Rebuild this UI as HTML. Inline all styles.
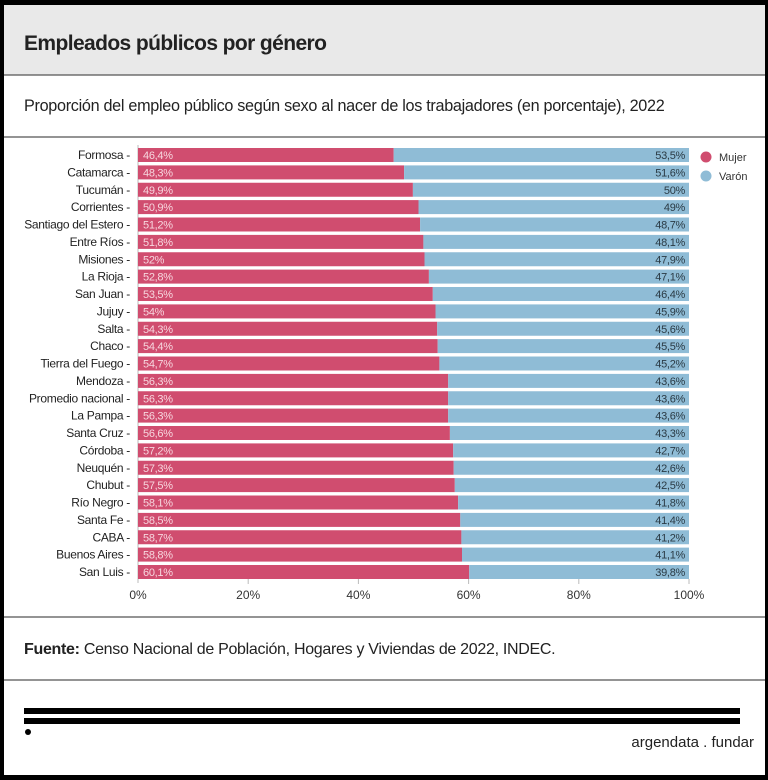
<!DOCTYPE html>
<html><head><meta charset="utf-8"><style>
html,body{margin:0;padding:0;background:#fff;}
svg{display:block;font-family:"Liberation Sans",sans-serif;}
.c{font-size:12px;fill:#222;text-anchor:end;letter-spacing:-0.3px}
.p{font-size:11px;fill:#f7d7df;letter-spacing:-0.3px}
.b{font-size:11px;fill:#2a3a44;text-anchor:end;letter-spacing:-0.3px}
</style></head><body>
<svg width="768" height="780" viewBox="0 0 768 780">
<rect x="0" y="0" width="768" height="780" fill="#000"/>
<rect x="4" y="5" width="761" height="770" fill="#fff"/>
<rect x="4" y="5" width="761" height="70" fill="#e9e9e9"/>
<line x1="4" y1="75" x2="765" y2="75" stroke="#555" stroke-width="1.2"/>
<text x="24" y="50" font-size="21" font-weight="600" fill="#222" letter-spacing="-0.6">Empleados públicos por género</text>
<text x="24" y="111" font-size="16.2" fill="#222" letter-spacing="-0.3">Proporción del empleo público según sexo al nacer de los trabajadores (en porcentaje), 2022</text>
<line x1="4" y1="137" x2="765" y2="137" stroke="#555" stroke-width="1.2"/>
<line x1="138" y1="145" x2="138" y2="583" stroke="#bbb" stroke-width="1"/>
<g id="rows">
<g transform="translate(0,148)"><rect x="138" y="0" width="255.7" height="14" fill="#d04d6f"/><rect x="393.7" y="0" width="295.3" height="14" fill="#8fbcd6"/><text class="c" x="130" y="11">Formosa -</text><text class="p" x="143" y="11">46,4%</text><text class="b" x="685" y="11">53,5%</text></g>
<g transform="translate(0,165.4)"><rect x="138" y="0" width="266.1" height="14" fill="#d04d6f"/><rect x="404.1" y="0" width="284.9" height="14" fill="#8fbcd6"/><text class="c" x="130" y="11">Catamarca -</text><text class="p" x="143" y="11">48,3%</text><text class="b" x="685" y="11">51,6%</text></g>
<g transform="translate(0,182.75)"><rect x="138" y="0" width="274.9" height="14" fill="#d04d6f"/><rect x="412.9" y="0" width="276.1" height="14" fill="#8fbcd6"/><text class="c" x="130" y="11">Tucumán -</text><text class="p" x="143" y="11">49,9%</text><text class="b" x="685" y="11">50%</text></g>
<g transform="translate(0,200.1)"><rect x="138" y="0" width="280.5" height="14" fill="#d04d6f"/><rect x="418.5" y="0" width="270.5" height="14" fill="#8fbcd6"/><text class="c" x="130" y="11">Corrientes -</text><text class="p" x="143" y="11">50,9%</text><text class="b" x="685" y="11">49%</text></g>
<g transform="translate(0,217.5)"><rect x="138" y="0" width="282.1" height="14" fill="#d04d6f"/><rect x="420.1" y="0" width="268.9" height="14" fill="#8fbcd6"/><text class="c" x="130" y="11">Santiago del Estero -</text><text class="p" x="143" y="11">51,2%</text><text class="b" x="685" y="11">48,7%</text></g>
<g transform="translate(0,234.9)"><rect x="138" y="0" width="285.4" height="14" fill="#d04d6f"/><rect x="423.4" y="0" width="265.6" height="14" fill="#8fbcd6"/><text class="c" x="130" y="11">Entre Ríos -</text><text class="p" x="143" y="11">51,8%</text><text class="b" x="685" y="11">48,1%</text></g>
<g transform="translate(0,252.25)"><rect x="138" y="0" width="286.5" height="14" fill="#d04d6f"/><rect x="424.5" y="0" width="264.5" height="14" fill="#8fbcd6"/><text class="c" x="130" y="11">Misiones -</text><text class="p" x="143" y="11">52%</text><text class="b" x="685" y="11">47,9%</text></g>
<g transform="translate(0,269.6)"><rect x="138" y="0" width="290.9" height="14" fill="#d04d6f"/><rect x="428.9" y="0" width="260.1" height="14" fill="#8fbcd6"/><text class="c" x="130" y="11">La Rioja -</text><text class="p" x="143" y="11">52,8%</text><text class="b" x="685" y="11">47,1%</text></g>
<g transform="translate(0,287)"><rect x="138" y="0" width="294.8" height="14" fill="#d04d6f"/><rect x="432.8" y="0" width="256.2" height="14" fill="#8fbcd6"/><text class="c" x="130" y="11">San Juan -</text><text class="p" x="143" y="11">53,5%</text><text class="b" x="685" y="11">46,4%</text></g>
<g transform="translate(0,304.4)"><rect x="138" y="0" width="297.5" height="14" fill="#d04d6f"/><rect x="435.5" y="0" width="253.5" height="14" fill="#8fbcd6"/><text class="c" x="130" y="11">Jujuy -</text><text class="p" x="143" y="11">54%</text><text class="b" x="685" y="11">45,9%</text></g>
<g transform="translate(0,321.75)"><rect x="138" y="0" width="299.2" height="14" fill="#d04d6f"/><rect x="437.2" y="0" width="251.8" height="14" fill="#8fbcd6"/><text class="c" x="130" y="11">Salta -</text><text class="p" x="143" y="11">54,3%</text><text class="b" x="685" y="11">45,6%</text></g>
<g transform="translate(0,339.1)"><rect x="138" y="0" width="299.7" height="14" fill="#d04d6f"/><rect x="437.7" y="0" width="251.3" height="14" fill="#8fbcd6"/><text class="c" x="130" y="11">Chaco -</text><text class="p" x="143" y="11">54,4%</text><text class="b" x="685" y="11">45,5%</text></g>
<g transform="translate(0,356.5)"><rect x="138" y="0" width="301.4" height="14" fill="#d04d6f"/><rect x="439.4" y="0" width="249.6" height="14" fill="#8fbcd6"/><text class="c" x="130" y="11">Tierra del Fuego -</text><text class="p" x="143" y="11">54,7%</text><text class="b" x="685" y="11">45,2%</text></g>
<g transform="translate(0,373.9)"><rect x="138" y="0" width="310.2" height="14" fill="#d04d6f"/><rect x="448.2" y="0" width="240.8" height="14" fill="#8fbcd6"/><text class="c" x="130" y="11">Mendoza -</text><text class="p" x="143" y="11">56,3%</text><text class="b" x="685" y="11">43,6%</text></g>
<g transform="translate(0,391.25)"><rect x="138" y="0" width="310.2" height="14" fill="#d04d6f"/><rect x="448.2" y="0" width="240.8" height="14" fill="#8fbcd6"/><text class="c" x="130" y="11">Promedio nacional -</text><text class="p" x="143" y="11">56,3%</text><text class="b" x="685" y="11">43,6%</text></g>
<g transform="translate(0,408.6)"><rect x="138" y="0" width="310.2" height="14" fill="#d04d6f"/><rect x="448.2" y="0" width="240.8" height="14" fill="#8fbcd6"/><text class="c" x="130" y="11">La Pampa -</text><text class="p" x="143" y="11">56,3%</text><text class="b" x="685" y="11">43,6%</text></g>
<g transform="translate(0,426)"><rect x="138" y="0" width="311.9" height="14" fill="#d04d6f"/><rect x="449.9" y="0" width="239.1" height="14" fill="#8fbcd6"/><text class="c" x="130" y="11">Santa Cruz -</text><text class="p" x="143" y="11">56,6%</text><text class="b" x="685" y="11">43,3%</text></g>
<g transform="translate(0,443.4)"><rect x="138" y="0" width="315.2" height="14" fill="#d04d6f"/><rect x="453.2" y="0" width="235.8" height="14" fill="#8fbcd6"/><text class="c" x="130" y="11">Córdoba -</text><text class="p" x="143" y="11">57,2%</text><text class="b" x="685" y="11">42,7%</text></g>
<g transform="translate(0,460.75)"><rect x="138" y="0" width="315.7" height="14" fill="#d04d6f"/><rect x="453.7" y="0" width="235.3" height="14" fill="#8fbcd6"/><text class="c" x="130" y="11">Neuquén -</text><text class="p" x="143" y="11">57,3%</text><text class="b" x="685" y="11">42,6%</text></g>
<g transform="translate(0,478.1)"><rect x="138" y="0" width="316.8" height="14" fill="#d04d6f"/><rect x="454.8" y="0" width="234.2" height="14" fill="#8fbcd6"/><text class="c" x="130" y="11">Chubut -</text><text class="p" x="143" y="11">57,5%</text><text class="b" x="685" y="11">42,5%</text></g>
<g transform="translate(0,495.5)"><rect x="138" y="0" width="320.1" height="14" fill="#d04d6f"/><rect x="458.1" y="0" width="230.9" height="14" fill="#8fbcd6"/><text class="c" x="130" y="11">Río Negro -</text><text class="p" x="143" y="11">58,1%</text><text class="b" x="685" y="11">41,8%</text></g>
<g transform="translate(0,512.9)"><rect x="138" y="0" width="322.3" height="14" fill="#d04d6f"/><rect x="460.3" y="0" width="228.7" height="14" fill="#8fbcd6"/><text class="c" x="130" y="11">Santa Fe -</text><text class="p" x="143" y="11">58,5%</text><text class="b" x="685" y="11">41,4%</text></g>
<g transform="translate(0,530.25)"><rect x="138" y="0" width="323.4" height="14" fill="#d04d6f"/><rect x="461.4" y="0" width="227.6" height="14" fill="#8fbcd6"/><text class="c" x="130" y="11">CABA -</text><text class="p" x="143" y="11">58,7%</text><text class="b" x="685" y="11">41,2%</text></g>
<g transform="translate(0,547.6)"><rect x="138" y="0" width="324" height="14" fill="#d04d6f"/><rect x="462" y="0" width="227" height="14" fill="#8fbcd6"/><text class="c" x="130" y="11">Buenos Aires -</text><text class="p" x="143" y="11">58,8%</text><text class="b" x="685" y="11">41,1%</text></g>
<g transform="translate(0,565)"><rect x="138" y="0" width="331.2" height="14" fill="#d04d6f"/><rect x="469.2" y="0" width="219.8" height="14" fill="#8fbcd6"/><text class="c" x="130" y="11">San Luis -</text><text class="p" x="143" y="11">60,1%</text><text class="b" x="685" y="11">39,8%</text></g>
</g>
<g stroke="#bbb" stroke-width="1">
<line x1="248.2" y1="579" x2="248.2" y2="584"/><line x1="358.4" y1="579" x2="358.4" y2="584"/><line x1="468.6" y1="579" x2="468.6" y2="584"/><line x1="578.8" y1="579" x2="578.8" y2="584"/><line x1="689" y1="579" x2="689" y2="584"/>
</g>
<g font-size="12" fill="#333" text-anchor="middle">
<text x="138" y="599">0%</text><text x="248.2" y="599">20%</text><text x="358.4" y="599">40%</text><text x="468.6" y="599">60%</text><text x="578.8" y="599">80%</text><text x="689" y="599">100%</text>
</g>
<circle cx="706" cy="157" r="5.5" fill="#d04d6f"/><text x="719" y="161" font-size="11" fill="#333">Mujer</text>
<circle cx="706" cy="176" r="5.5" fill="#8fbcd6"/><text x="719" y="180" font-size="11" fill="#333">Varón</text>
<line x1="4" y1="617" x2="765" y2="617" stroke="#555" stroke-width="1.2"/>
<text x="24" y="654" font-size="16" fill="#222" letter-spacing="-0.3"><tspan font-weight="bold">Fuente:</tspan> Censo Nacional de Población, Hogares y Viviendas de 2022, INDEC.</text>
<line x1="4" y1="680" x2="765" y2="680" stroke="#555" stroke-width="1.2"/>
<rect x="24" y="708" width="716" height="6" fill="#000"/>
<rect x="24" y="718" width="716" height="6" fill="#000"/>
<circle cx="28" cy="732" r="3" fill="#000"/>
<text x="754" y="747" font-size="15" fill="#222" text-anchor="end">argendata . fundar</text>
</svg>
</body></html>
